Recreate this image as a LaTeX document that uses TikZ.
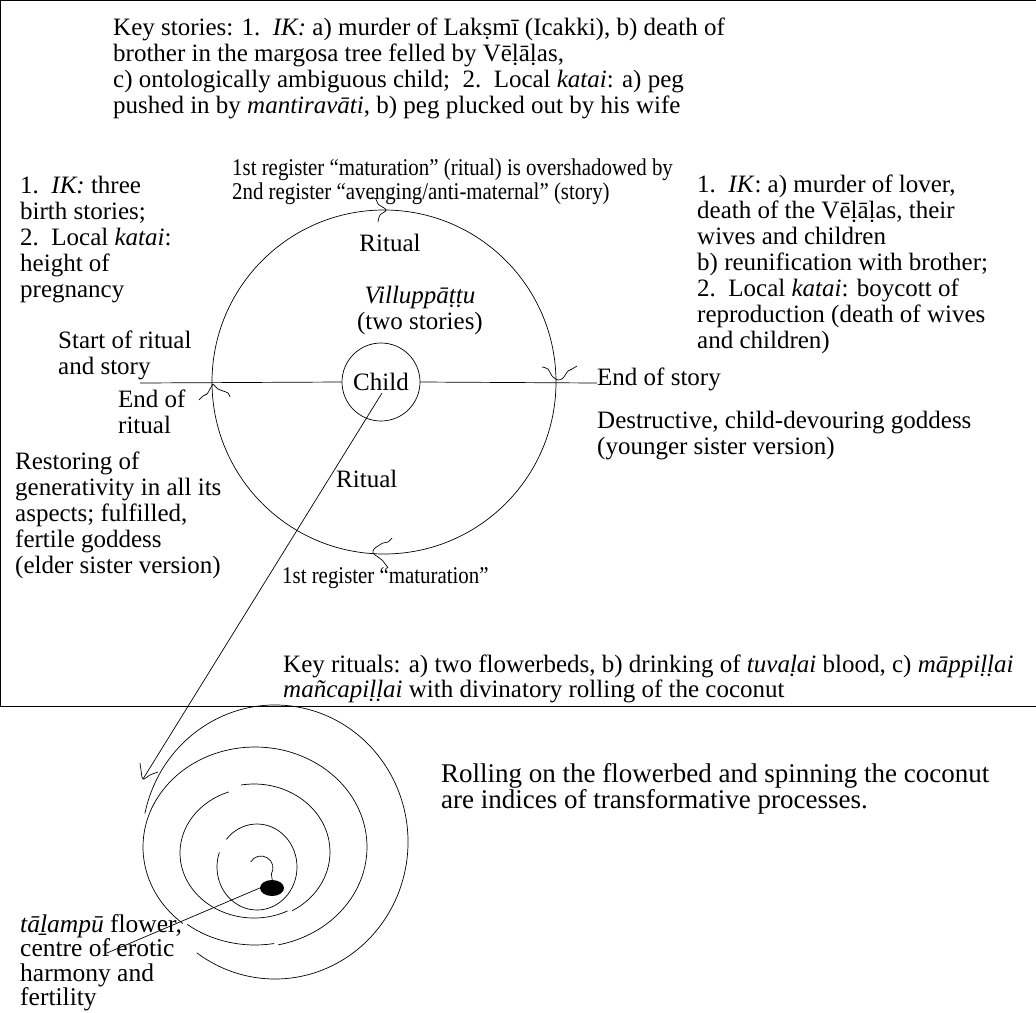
\documentclass[tikz,border=0pt]{standalone}
\usepackage{fontspec}
\setmainfont{Liberation Serif}
\newfontfamily\condfont[FakeStretch=0.87]{Liberation Serif}
\usetikzlibrary{shapes.geometric}
\begin{document}
\begin{tikzpicture}[x=1pt,y=-1pt,
  txt/.style={anchor=north west, inner sep=0pt, font=\fontsize{25}{26}\selectfont, align=left},
  ctxt/.style={anchor=north west, inner sep=0pt, font=\condfont\fontsize{24}{24}\selectfont, align=left},
  thin line/.style={line width=0.7pt},
  squig/.style={line width=0.7pt, smooth, tension=0.6}]
\useasboundingbox (0,0) rectangle (1036,1012);
% frame
\draw[line width=1pt] (1036,0.5) -- (0.5,0.5) -- (0.5,706) -- (1036,706);
% texts
\node[txt] (topkey) at (113,18) {Key stories: 1.\ \ \textit{IK:} a) murder of Lakṣmī (Icakki), b) death of\\ brother in the margosa tree felled by Vēḷāḷas,\\ c) ontologically ambiguous child;\ \ 2.\ \ Local \textit{katai}: a) peg\\ pushed in by \textit{mantiravāti}, b) peg plucked out by his wife};
\node[txt] (lefttop) at (20,176) {1.\ \ \textit{IK:} three\\ birth stories;\\ 2.\ \ Local \textit{katai}:\\ height of\\ pregnancy};
\node[ctxt] (reg1) at (232,159) {1st register “maturation” (ritual) is overshadowed by\\ 2nd register “avenging/anti-maternal” (story)};
\node[txt] (righttop) at (697,175) {1.\ \ \textit{IK}: a) murder of lover,\\ death of the Vēḷāḷas, their\\ wives and children\\ b) reunification with brother;\\ 2.\ \ Local \textit{katai}: boycott of\\ reproduction (death of wives\\ and children)};
\node[txt] (start) at (58,331) {Start of ritual\\ and story};
\node[txt] (endrit) at (118,390) {End of\\ ritual};
\node[txt] (endstory) at (597,368) {End of story};
\node[txt] (destr) at (597,411) {Destructive, child-devouring goddess\\ (younger sister version)};
\node[txt] (restor) at (15,452) {Restoring of\\ generativity in all its\\ aspects; fulfilled,\\ fertile goddess\\ (elder sister version)};
\node[ctxt] (reg2) at (282,567) {1st register “maturation”};
\node[txt, font=\fontsize{25}{25}\selectfont] (keyrit) at (283,655) {Key rituals: a) two flowerbeds, b) drinking of \textit{tuvaḷai} blood, c) \textit{māppiḷḷai}\\ \textit{mañcapiḷḷai} with divinatory rolling of the coconut};
\node[txt, font=\fontsize{27}{26}\selectfont] (rolling) at (441,763) {Rolling on the flowerbed and spinning the coconut\\ are indices of transformative processes.};
\node[txt, font=\fontsize{25.5}{24.5}\selectfont] (talam) at (20,914) {\textit{tāḻampū} flower,\\ centre of erotic\\ harmony and\\ fertility};
% circles
\node[draw, thin line, circle, minimum size=344pt, inner sep=0pt] (big) at (384,382) {};
\node[txt, anchor=center] (rittop) at (390,243) {Ritual};
\node[txt, anchor=north, align=center] (vill) at (420,286) {\textit{Villuppāṭṭu}\\ (two stories)};
\node[txt, anchor=north west] (ritbot) at (336,470) {Ritual};
\node[draw, thin line, circle, minimum size=78pt, inner sep=0pt, font=\fontsize{25}{26}\selectfont] (child) at (381,382) {Child};
% horizontal axis
\coordinate (axl) at (140,383);
\coordinate (axr) at (597,383);
\draw[thin line] (axl) -- (child.west);
\draw[thin line] (child.east) -- (axr);
% ticks on circle
\draw[squig] plot coordinates {(371,197) (376,199) (378,204) (386,210) (380,215) (378,222)};
\draw[squig] plot coordinates {(199,400) (203,396) (207,394) (210,389) (213,384)};
\draw[squig] plot coordinates {(213,384) (218,389) (223,391) (228,393) (230,397)};
\draw[squig] plot coordinates {(542,367) (548,369) (552,376) (558,380) (563,378) (568,371) (572,369) (577,366)};
\draw[squig] plot coordinates {(392,538) (388,542) (383,543) (378,546) (374,549) (373,553) (378,557) (382,560) (386,565) (388,568)};
% line from child to spiral
\coordinate (cstart) at (382,393);
\coordinate (tip) at (143,779);
\draw[thin line] (cstart) -- (tip);
\draw[squig] plot coordinates {(140,763) (141,770) (143,779) (150,775) (158,772)};
% spiral
\draw[thin line, shift={(275,842)}] (-168:133 and 137) arc[start angle=-168, end angle=126, x radius=133, y radius=137];
\draw[thin line, shift={(255,847)}] (-230:112 and 100) arc[start angle=-230, end angle=78, x radius=112, y radius=100];
\draw[thin line, shift={(255,848)}] (80:110 and 97) arc[start angle=80, end angle=128, x radius=110, y radius=97];
\draw[thin line, shift={(254,852)}] (-100:76 and 68) arc[start angle=-100, end angle=60, x radius=76, y radius=68];
\draw[thin line, shift={(254,853)}] (63:74 and 65) arc[start angle=63, end angle=250, x radius=74, y radius=65];
\draw[thin line, shift={(257,867)}] (-140:40 and 43) arc[start angle=-140, end angle=200, x radius=40, y radius=43];
\draw[thin line, shift={(261,868)}] (-150:12 and 12) arc[start angle=-150, end angle=30, radius=12] -- ++(1,7);
\node[ellipse, fill=black, minimum width=24pt, minimum height=16pt, inner sep=0pt] (dot) at (272,888) {};
\coordinate (fl) at (107,953);
\draw[thin line] (dot.west) -- (fl);
\end{tikzpicture}
\end{document}
